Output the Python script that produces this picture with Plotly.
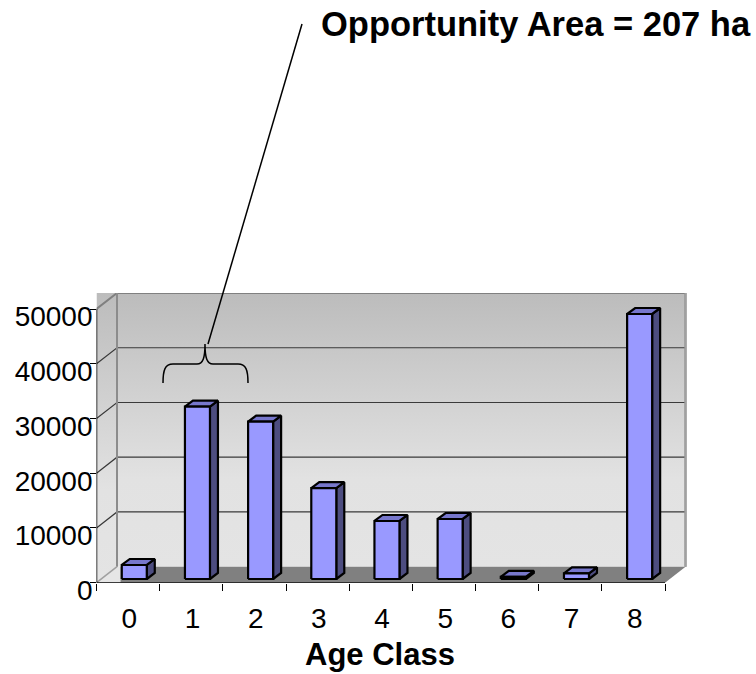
import plotly.graph_objects as go

W, H = 756, 674
categories = [0, 1, 2, 3, 4, 5, 6, 7, 8]
values = [2560, 31480, 28740, 16600, 10600, 10960, 400, 1040, 48410]
y_ticks = [0, 10000, 20000, 30000, 40000, 50000]

# plot geometry (pixels)
L, R, T, B = 96.5, 687, 293, 582.7
CAT_PX = 63.17
VAL_PX = 54.74 / 10000
x_max = (R - L) / CAT_PX
y_max = (B - T) / VAL_PX
DX = 20.5 / CAT_PX
DY = 16 / VAL_PX
BAR_X = 0.4
BAR_W = 0.396
BAR_DX = 8 / CAT_PX
BAR_DY = 6 / VAL_PX
BASE = 3.7 / VAL_PX
N = len(categories)
TOP = y_ticks[-1]


def px(x):
    return x / W


def py(y):
    return 1 - y / H


fig = go.Figure()


def poly(xs, ys, **kw):
    fig.add_trace(go.Scatter(x=xs, y=ys, mode="lines", fill="toself", hoverinfo="skip",
                             showlegend=False, **kw))


def seg(xs, ys, color, width):
    fig.add_trace(go.Scatter(x=xs, y=ys, mode="lines", hoverinfo="skip", showlegend=False,
                             line=dict(color=color, width=width)))


grad = dict(type="vertical", colorscale=[[0, "#e4e4e4"], [0.32, "#e2e2e2"], [1, "#bcbcbc"]])
noline = dict(width=0, color="rgba(0,0,0,0)")
# back wall
poly([DX, N + DX, N + DX, DX, DX], [DY, DY, TOP + DY, TOP + DY, DY], fillgradient=grad, line=noline)
# side wall, filled up to the top of the plot
poly([0, DX, DX, 0, 0], [0, DY, TOP + DY, TOP + DY, 0], fillgradient=grad, line=noline)
# light corner of the floor
poly([0, BAR_X * 0.95, BAR_X * 0.95, DX, 0], [0, 0, DY, DY, 0], fillcolor="#e6e6e6", line=noline)
# floor
poly([BAR_X * 0.95, N, N + DX, BAR_X * 0.95, BAR_X * 0.95], [0, 0, DY, DY, 0],
     fillcolor="#808080", line=noline)

# gridlines
for t in y_ticks[1:-1]:
    seg([0, DX, N + DX], [t, t + DY, t + DY], "#3a3a3a", 1.2)
seg([0, DX, N + DX, N + DX], [TOP, TOP + DY, TOP + DY, DY], "#808080", 2)
seg([DX, DX], [DY, TOP + DY], "#8c8c8c", 2)
seg([0, DX], [0, DY], "#a0a0a0", 1.5)
seg([N + DX, N + DX], [TOP + DY, DY], "#a0a0a0", 2)

# bars
fx, fy, tx, ty, sx, sy = [], [], [], [], [], []
for c, v in zip(categories, values):
    x0 = c + BAR_X
    x1 = x0 + BAR_W
    y0 = BASE
    y1 = BASE + v
    fx += [x0, x1, x1, x0, x0, None]
    fy += [y0, y0, y1, y1, y0, None]
    tx += [x0, x0 + BAR_DX, x1 + BAR_DX, x1, x0, None]
    ty += [y1, y1 + BAR_DY, y1 + BAR_DY, y1, y1, None]
    sx += [x1, x1 + BAR_DX, x1 + BAR_DX, x1, x1, None]
    sy += [y0, y0 + BAR_DY, y1 + BAR_DY, y1, y0, None]
edge = dict(color="#000000", width=2.2)
poly(sx, sy, fillcolor="#4d4d80", line=edge)
poly(tx, ty, fillcolor="#7777cc", line=edge)
poly(fx, fy, fillcolor="#9999ff", line=edge)

# axis lines
seg([0, N], [0, 0], "#000000", 1.5)
seg([0, 0], [0, TOP], "#000000", 1.5)

# invisible trace for the label axis
fig.add_trace(go.Scatter(x=[0], y=[0], yaxis="y2", mode="markers", marker=dict(opacity=0),
                         hoverinfo="skip", showlegend=False))

LABEL_SHIFT = 7.5
fig.update_layout(
    template="none",
    width=W, height=H, margin=dict(l=0, r=0, t=0, b=0, autoexpand=False),
    paper_bgcolor="#ffffff", plot_bgcolor="rgba(0,0,0,0)",
    font=dict(family="Liberation Sans", color="#000000"),
    xaxis=dict(domain=[px(L), px(R)], range=[0, x_max], showgrid=False, zeroline=False,
               automargin=False, showline=False,
               tickmode="array", tickvals=[c + 0.52 for c in categories],
               ticktext=[str(c) for c in categories], ticks="outside", ticklen=11,
               tickcolor="rgba(0,0,0,0)", tickfont=dict(size=28),
               minor=dict(tickmode="array", tickvals=list(range(N + 1)), ticks="outside",
                          ticklen=7, tickcolor="#000000", tickwidth=1, showgrid=False)),
    yaxis=dict(domain=[py(B), py(T)], range=[0, y_max], showgrid=False, zeroline=False,
               automargin=False, showline=False,
               tickmode="array", tickvals=y_ticks, showticklabels=False, ticks="outside",
               ticklen=6, tickcolor="#000000", tickwidth=1),
    yaxis2=dict(domain=[py(B + LABEL_SHIFT), py(T + LABEL_SHIFT)], range=[0, y_max], anchor="x",
                automargin=False, showline=False,
                showgrid=False, zeroline=False, tickmode="array", tickvals=y_ticks,
                ticktext=[str(t) for t in y_ticks], ticks="", tickfont=dict(size=28),
                ticklabelstandoff=3),
    shapes=[
        dict(type="line", xref="paper", yref="paper", x0=px(302), y0=py(24), x1=px(208), y1=py(344),
             line=dict(color="#000000", width=1.5)),
        dict(type="path", xref="paper", yref="paper", line=dict(color="#000000", width=1.5),
             path=(f"M {px(163)} {py(383)} C {px(163)} {py(370)} {px(165)} {py(364)} {px(173)} {py(364)} "
                   f"L {px(197)} {py(364)} C {px(203)} {py(364)} {px(205)} {py(358)} {px(205)} {py(344)} "
                   f"C {px(205)} {py(358)} {px(207)} {py(364)} {px(213)} {py(364)} "
                   f"L {px(238)} {py(364)} C {px(246)} {py(364)} {px(248)} {py(370)} {px(248)} {py(383)}")),
    ],
    annotations=[
        dict(text="<b>Opportunity Area = 207 ha</b>", xref="paper", yref="paper", x=px(319), y=py(24),
             xanchor="left", yanchor="middle", showarrow=False, font=dict(size=34.5)),
        dict(text="<b>Age Class</b>", xref="paper", yref="paper", x=px(380.5), y=py(654),
             xanchor="center", yanchor="middle", showarrow=False, font=dict(size=31)),
    ],
)

fig.write_html("out.html", config=dict(displayModeBar=False),
               post_script="document.body.style.margin='0';")
